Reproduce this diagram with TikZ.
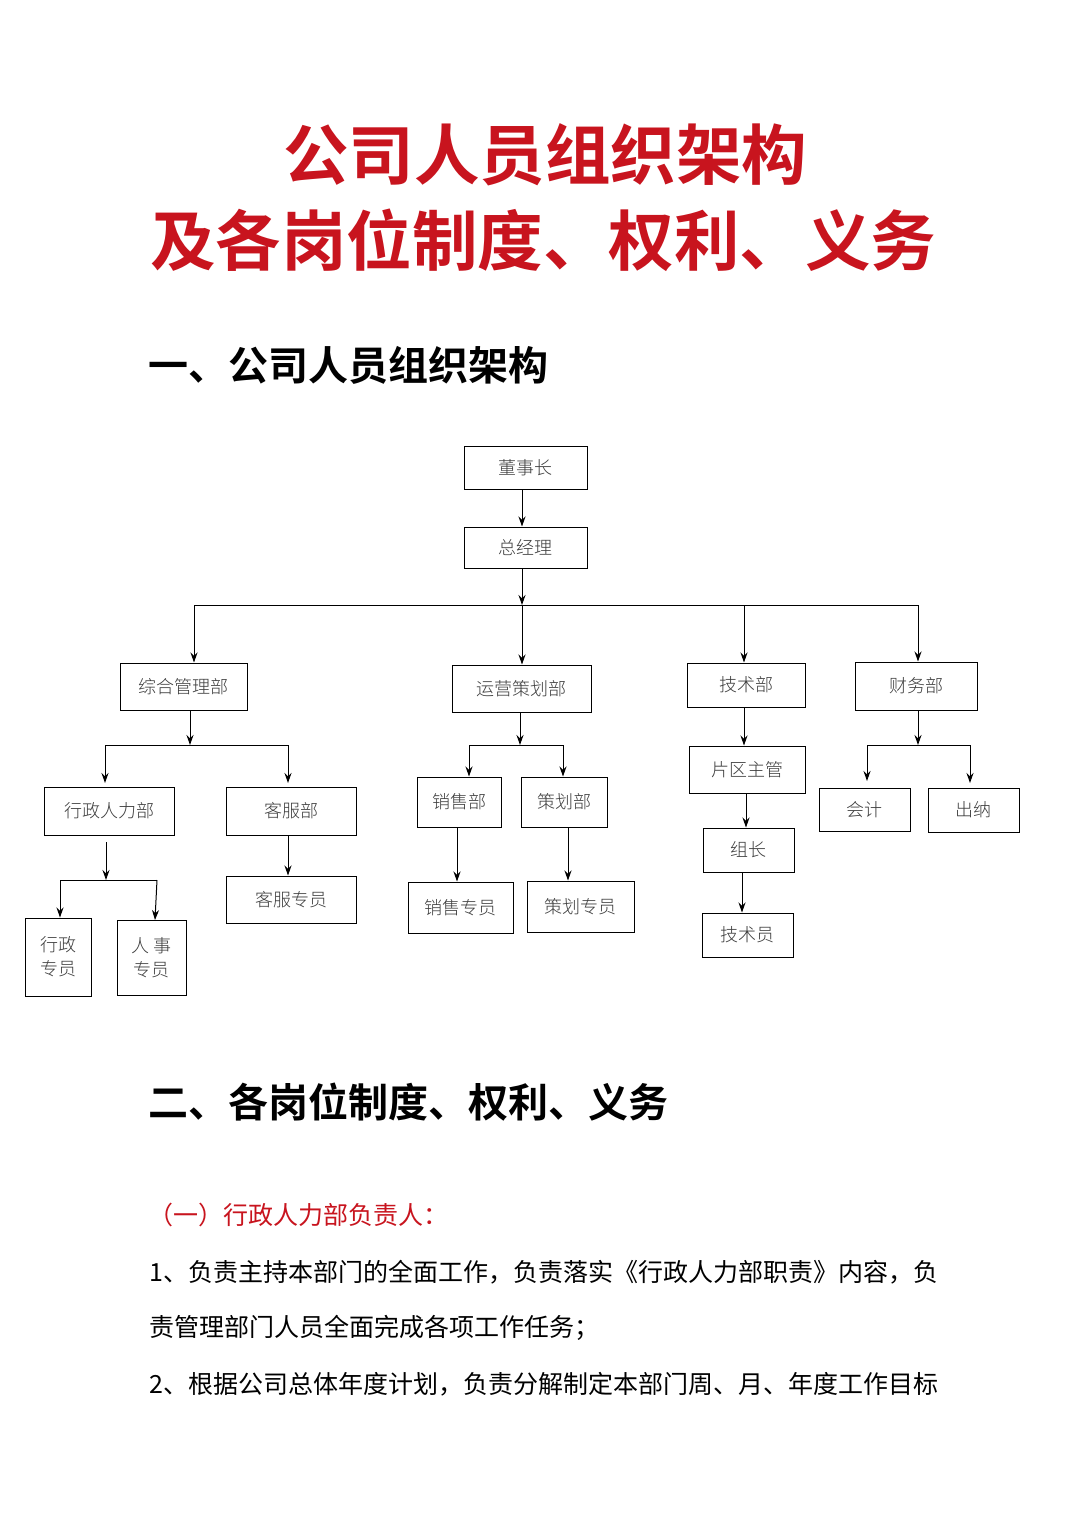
\documentclass[tikz,border=0pt]{standalone}
\usepackage{fontspec}
\setmainfont{Noto Sans CJK SC}
\newfontfamily\cjkb{Noto Sans CJK SC Bold}
\newfontfamily\cjkl{Noto Sans CJK SC Light}
\usetikzlibrary{arrows.meta}
\definecolor{tred}{RGB}{200,20,30}
\definecolor{bx}{RGB}{60,60,60}
\tikzset{x=1pt,y=1pt,
 box/.style={draw=black,line width=1pt,inner sep=0pt,font=\cjkl\fontsize{18}{24}\selectfont,text=bx,align=center},
 arr/.style={line width=1pt,-{Stealth[length=10pt,width=7pt]}},
 ln/.style={line width=1pt}}
\begin{document}
\begin{tikzpicture}
\useasboundingbox[fill=white] (0,0) rectangle (1080,-1528);
\node[text=tred,font=\cjkb\fontsize{65.5}{66}\selectfont] (t1) at (545,-155) {公司人员组织架构};
\node[text=tred,font=\cjkb\fontsize{65.5}{66}\selectfont] (t2) at (543,-240) {及各岗位制度、权利、义务};
\node[anchor=west,font=\cjkb\fontsize{40}{40}\selectfont] (h1) at (145,-365) {一、公司人员组织架构};
\node[anchor=west,font=\cjkb\fontsize{40}{40}\selectfont] (h2) at (145,-1102) {二、各岗位制度、权利、义务};
\node[anchor=west,text=tred,font=\fontsize{25}{25}\selectfont] (s1) at (145,-1215) {（一）行政人力部负责人：};
\node[anchor=west,font=\fontsize{25}{25}\selectfont] (p1) at (146,-1272) {1、负责主持本部门的全面工作，负责落实《行政人力部职责》内容，负};
\node[anchor=west,font=\fontsize{25}{25}\selectfont] (p2) at (146,-1328) {责管理部门人员全面完成各项工作任务；};
\node[anchor=west,font=\fontsize{25}{25}\selectfont] (p3) at (146,-1384) {2、根据公司总体年度计划，负责分解制定本部门周、月、年度工作目标};

\node[box,minimum width=123pt,minimum height=43pt] (a) at (525.5,-467.5) {董事长};
\node[box,minimum width=123pt,minimum height=41pt] (b) at (525.5,-547.5) {总经理};
\node[box,minimum width=127pt,minimum height=47pt] (c) at (183.5,-686.5) {综合管理部};
\node[box,minimum width=139pt,minimum height=47pt] (d) at (521.5,-688.5) {运营策划部};
\node[box,minimum width=118pt,minimum height=44pt] (e) at (746,-685) {技术部};
\node[box,minimum width=122pt,minimum height=48pt] (f) at (916,-686) {财务部};
\node[box,minimum width=130pt,minimum height=48pt] (g) at (109,-811) {行政人力部};
\node[box,minimum width=130pt,minimum height=48pt] (h) at (291,-811) {客服部};
\node[box,minimum width=66pt,minimum height=78pt] (i) at (58,-957) {行政\\专员};
\node[box,minimum width=69pt,minimum height=75pt] (j) at (151.5,-957.5) {人 事\\专员};
\node[box,minimum width=130pt,minimum height=47pt] (k) at (291,-899.5) {客服专员};
\node[box,minimum width=84pt,minimum height=50pt] (l) at (459,-802) {销售部};
\node[box,minimum width=86pt,minimum height=50pt] (m) at (564,-802) {策划部};
\node[box,minimum width=105pt,minimum height=51pt] (n) at (460.5,-907.5) {销售专员};
\node[box,minimum width=107pt,minimum height=51pt] (o) at (580.5,-906.5) {策划专员};
\node[box,minimum width=116pt,minimum height=47pt] (p) at (747,-769.5) {片区主管};
\node[box,minimum width=91pt,minimum height=44pt] (q) at (748.5,-850) {组长};
\node[box,minimum width=91pt,minimum height=44pt] (r) at (747.5,-935) {技术员};
\node[box,minimum width=91pt,minimum height=43pt] (s) at (864.5,-809.5) {会计};
\node[box,minimum width=91pt,minimum height=44pt] (t) at (973.5,-810) {出纳};

\coordinate (a0) at (522,-489);
\draw[arr] (a0) -- (a0 |- b.north);
\coordinate (m0) at (522,-605);
\coordinate (l0) at (194,-605);
\coordinate (r0) at (918,-605);
\coordinate (te0) at (744,-605);
\draw[arr] (b.south -| m0) -- (m0);
\draw[ln] (l0) -- (r0);
\draw[arr] (l0) -- (l0 |- c.north);
\draw[arr] (m0) -- (m0 |- d.north);
\draw[arr] (te0) -- (te0 |- e.north);
\draw[arr] (r0) -- (r0 |- f.north);
\coordinate (c1) at (190,-745);
\coordinate (c2) at (105,-745);
\coordinate (c3) at (288,-745);
\draw[arr] (c.south -| c1) -- (c1);
\draw[ln] (c2) -- (c3);
\draw[arr] (c2) -- (105,-783);
\draw[arr] (c3) -- (288,-783);
\coordinate (g1) at (106,-880);
\coordinate (g2) at (60,-880);
\coordinate (g3) at (157,-880);
\draw[arr] (106,-842) -- (g1);
\draw[ln] (g2) -- (g3);
\draw[arr] (g2) -- (g2 |- i.north);
\draw[arr] (g3) -- (155,-920);
\coordinate (h1c) at (288,-835);
\draw[arr] (h1c) -- (h1c |- k.north);
\coordinate (d1) at (520,-745);
\coordinate (d2) at (469,-745);
\coordinate (d3) at (563,-745);
\draw[arr] (d.south -| d1) -- (d1);
\draw[ln] (d2) -- (d3);
\draw[arr] (d2) -- (d2 |- l.north);
\draw[arr] (d3) -- (d3 |- m.north);
\coordinate (l1) at (457,-827);
\coordinate (m1) at (568,-827);
\draw[arr] (l1) -- (l1 |- n.north);
\draw[arr] (m1) -- (m1 |- o.north);
\coordinate (e1) at (744,-707);
\draw[arr] (e1) -- (e1 |- p.north);
\coordinate (p1c) at (746,-793);
\draw[arr] (p1c) -- (p1c |- q.north);
\coordinate (q1) at (742,-872);
\draw[arr] (q1) -- (q1 |- r.north);
\coordinate (f1) at (918,-745);
\coordinate (f2) at (867,-745);
\coordinate (f3) at (970,-745);
\draw[arr] (f.south -| f1) -- (f1);
\draw[ln] (f2) -- (f3);
\draw[arr] (f2) -- (867,-781);
\draw[arr] (f3) -- (970,-783);
\end{tikzpicture}
\end{document}
